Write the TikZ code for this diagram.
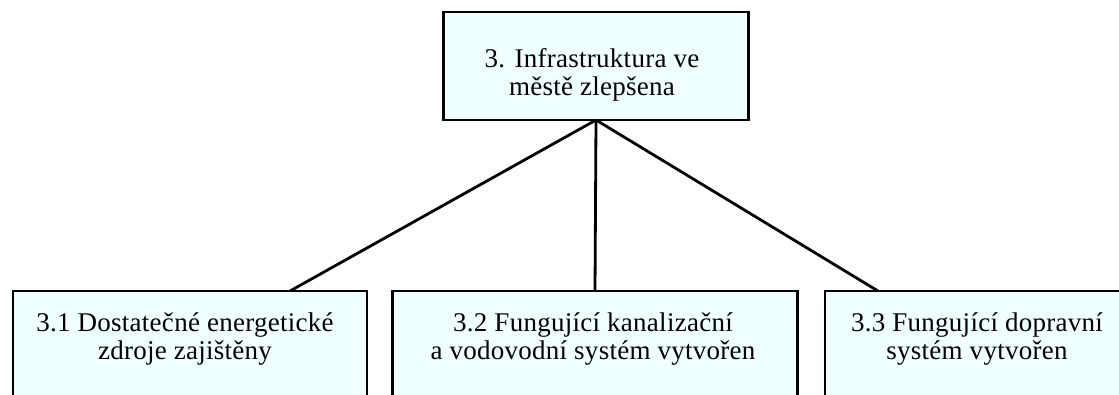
\documentclass[tikz,border=0pt]{standalone}
\usepackage{fontspec}
\setmainfont{Liberation Serif}[LetterSpace=1]
\definecolor{paleblue}{RGB}{240,255,255}

\tikzstyle{frame}   = [draw=black, line width=2.8pt, fill=paleblue, inner sep=0pt, outer sep=0pt]
\tikzstyle{goal}    = [frame, minimum width=305pt, minimum height=108pt]
\tikzstyle{subgoal} = [frame, anchor=north, minimum height=140pt]
\tikzstyle{txt}     = [font=\fontsize{27}{28}\selectfont, align=center, inner sep=0pt]
\tikzstyle{link}    = [line width=2.8pt]

\begin{document}
\begin{tikzpicture}[x=1pt, y=-1pt]
  \clip (0,0) rectangle (1119,394);
  \fill[white] (0,0) rectangle (1119,394);

  % frames
  \node[goal]                         (top)   at (596,66)  { };
  \node[subgoal, minimum width=354pt] (left)  at (190,291) { };
  \node[subgoal, minimum width=405pt] (mid)   at (595,291) { };
  \node[subgoal, minimum width=302pt] (right) at (976,291) { };

  % texts
  \node[txt] (toptext)   at (592,75)  {3. Infrastruktura ve\\městě zlepšena};
  \node[txt] (lefttext)  at (185,339) {3.1 Dostatečné energetické\\zdroje zajištěny};
  \node[txt] (midtext)   at (593,339) {3.2 Fungující kanalizační\\a vodovodní systém vytvořen};
  \node[txt] (righttext) at (977,339) {3.3 Fungující dopravní\\systém vytvořen};

  % links
  \draw[link] (top.south) -- ([xshift=100pt]left.north);
  \draw[link] (top.south) -- (mid.north);
  \draw[link] (top.south) -- ([xshift=-98pt]right.north);
\end{tikzpicture}
\end{document}
